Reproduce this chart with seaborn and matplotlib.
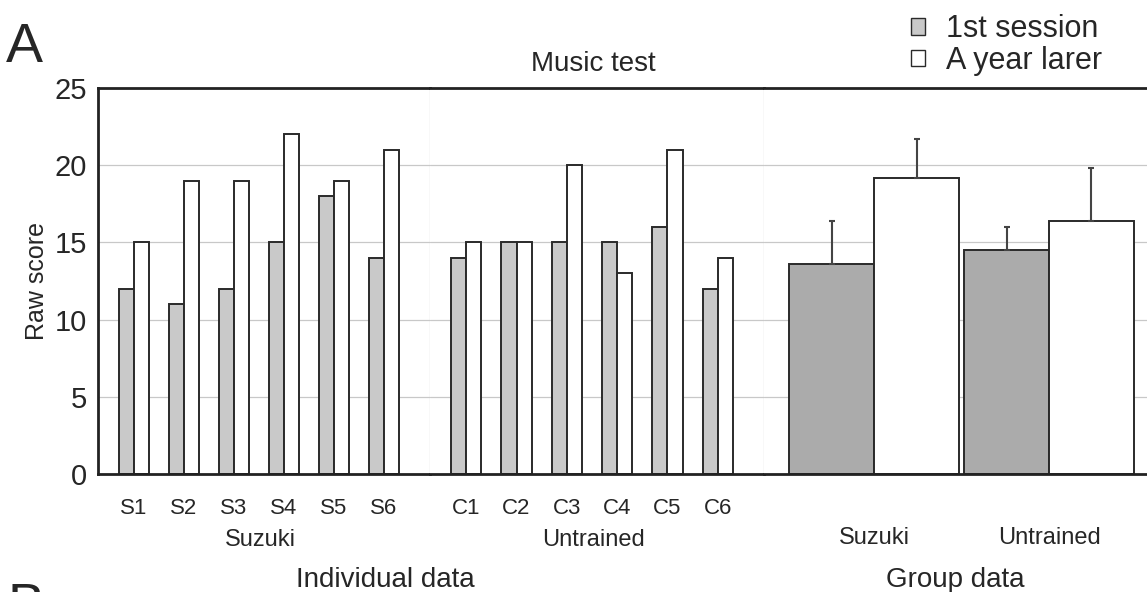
# ==========================================================
# Music test: raw scores, 1st session vs a year later
# ==========================================================

import numpy as np
import pandas as pd
import matplotlib
matplotlib.use("Agg")
import matplotlib.pyplot as plt
import seaborn as sns
from matplotlib.patches import Patch

# ==========================================================
# Data
# ==========================================================

suzuki_ids = ["S1", "S2", "S3", "S4", "S5", "S6"]
suzuki_first = [12, 11, 12, 15, 18, 14]
suzuki_later = [15, 19, 19, 22, 19, 21]

untrained_ids = ["C1", "C2", "C3", "C4", "C5", "C6"]
untrained_first = [14, 15, 15, 15, 16, 12]
untrained_later = [15, 15, 20, 13, 21, 14]

groups = ["Suzuki", "Untrained"]
group_first = [13.6, 14.5]
group_later = [19.2, 16.4]
group_first_err = [2.8, 1.5]
group_later_err = [2.5, 3.4]

sessions = ["1st session", "A year larer"]

# ==========================================================
# Build tables
# ==========================================================

def long_table(ids, first, later):
    return pd.DataFrame({
        "id": list(ids) * 2,
        "session": [sessions[0]] * len(ids) + [sessions[1]] * len(ids),
        "score": list(first) + list(later),
    })

df_suzuki = long_table(suzuki_ids, suzuki_first, suzuki_later)
df_untrained = long_table(untrained_ids, untrained_first, untrained_later)
df_group = long_table(groups, group_first, group_later)

# ==========================================================
# Figure
# ==========================================================

sns.set_style("white")
plt.rcParams["font.family"] = ["Liberation Sans", "DejaVu Sans"]

fig = plt.figure(figsize=(11.47, 5.92), dpi=100)

W, H = 1147, 592
bottom = 1 - 474 / H
height = (474 - 88) / H
ax1 = fig.add_axes([98 / W, bottom, (430 - 98) / W, height])
ax2 = fig.add_axes([430 / W, bottom, (764 - 430) / W, height])
ax3 = fig.add_axes([764 / W, bottom, (W - 764) / W, height])

edge = "#2a2a2a"
indiv_pal = {sessions[0]: "#c9c9c9", sessions[1]: "white"}
group_pal = {sessions[0]: "#ababab", sessions[1]: "white"}

for ax, df in [(ax1, df_suzuki), (ax2, df_untrained)]:
    sns.barplot(data=df, x="id", y="score", hue="session", palette=indiv_pal,
                width=0.6, edgecolor=edge, linewidth=1.4, legend=False, ax=ax)
    ax.set_xlim(-0.72, 5.92)

sns.barplot(data=df_group, x="id", y="score", hue="session", palette=group_pal,
            width=0.97, edgecolor=edge, linewidth=1.4, legend=False, ax=ax3)
ax3.set_xlim(-0.63, 1.56)

# error bars (upper only) on group bars
bars = [p for p in ax3.patches if p.get_height() > 0]
first_bars = sorted(bars[:2], key=lambda p: p.get_x())
later_bars = sorted(bars[2:4], key=lambda p: p.get_x())
for blist, errs in [(first_bars, group_first_err), (later_bars, group_later_err)]:
    for p, e in zip(blist, errs):
        xc = p.get_x() + p.get_width() / 2
        ax3.errorbar(xc, p.get_height(), yerr=[[0], [e]], fmt="none",
                     ecolor="#444444", elinewidth=1.5, capsize=2, capthick=1.5)

# ==========================================================
# Axes styling
# ==========================================================

for ax in [ax1, ax2, ax3]:
    ax.set_ylim(0, 25)
    ax.set_yticks([0, 5, 10, 15, 20, 25])
    ax.yaxis.grid(True, color="#c8c8c8", linewidth=0.9)
    ax.set_axisbelow(True)
    ax.set_xlabel("")
    ax.set_ylabel("")
    ax.tick_params(axis="x", length=0, labelsize=16, pad=17)
    for side in ["top", "bottom"]:
        ax.spines[side].set_color("#222222")
        ax.spines[side].set_linewidth(2)
    ax.spines["left"].set_visible(False)
    ax.spines["right"].set_color("#c8c8c8")
    ax.spines["right"].set_linewidth(0.9)

ax1.spines["left"].set_visible(True)
ax1.spines["left"].set_color("#222222")
ax1.spines["left"].set_linewidth(2)
ax1.tick_params(axis="y", length=0, labelsize=21, pad=8)
ax1.set_ylabel("Raw score", fontsize=18, labelpad=4)
ax2.set_yticklabels([])
ax3.set_yticklabels([])
ax2.tick_params(axis="y", length=0)
ax3.tick_params(axis="y", length=0)
ax3.spines["right"].set_visible(False)
ax3.tick_params(axis="x", labelsize=17, pad=38)

# ==========================================================
# Text labels
# ==========================================================

fig.text(260 / W, 1 - 540 / H, "Suzuki", fontsize=17, ha="center", va="center")
fig.text(594 / W, 1 - 540 / H, "Untrained", fontsize=17, ha="center", va="center")
fig.text(385 / W, 1 - 580 / H, "Individual data", fontsize=20, ha="center", va="center")
fig.text(955 / W, 1 - 580 / H, "Group data", fontsize=20, ha="center", va="center")
fig.text(593 / W, 1 - 64 / H, "Music test", fontsize=20, ha="center", va="center")
fig.text(6 / W, 1 - 48 / H, "A", fontsize=40, ha="left", va="center")
fig.text(8 / W, 1 - 608 / H, "B", fontsize=40, ha="left", va="center")

handles = [Patch(facecolor=indiv_pal[s], edgecolor=edge, linewidth=1.0) for s in sessions]
fig.legend(handles, sessions, loc="upper right", bbox_to_anchor=(0.985, 1.022),
           frameon=False, fontsize=22, handlelength=0.45, handleheight=0.45,
           handletextpad=0.7, labelspacing=0.05)

plt.savefig("out.png", dpi=100)
